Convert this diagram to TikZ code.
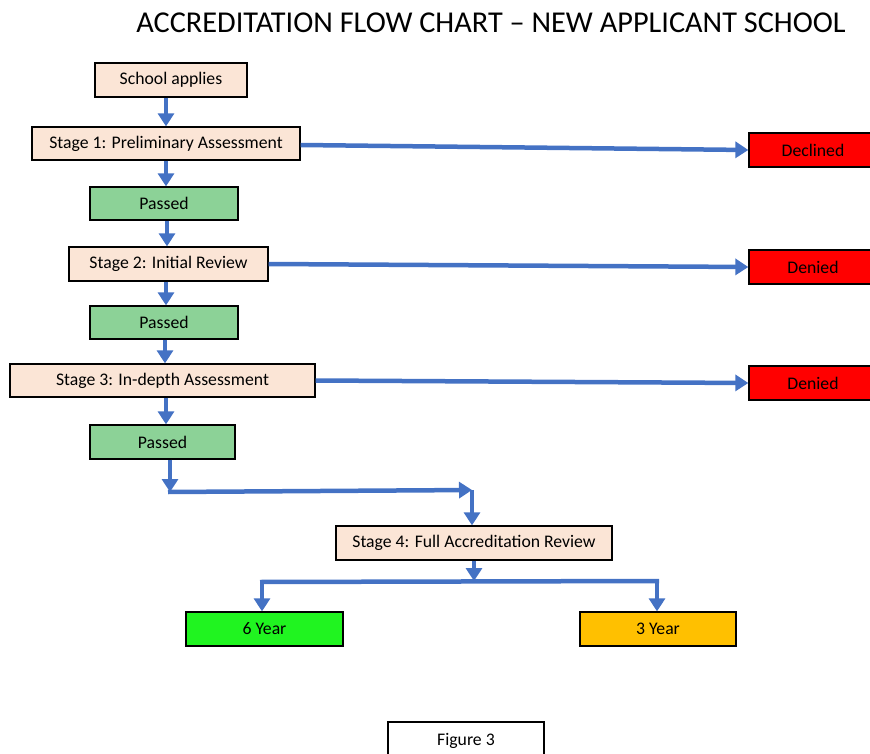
\documentclass[tikz,border=0pt]{standalone}
\usepackage{fontspec}
\setmainfont{Carlito}
\usetikzlibrary{arrows.meta}
\definecolor{peach}{HTML}{FBE5D6}
\definecolor{passgreen}{HTML}{8CD297}
\definecolor{flowblue}{HTML}{4472C4}
\definecolor{sixgreen}{HTML}{20F420}
\definecolor{threeyellow}{HTML}{FFC000}
\tikzset{
  box/.style={draw=black, line width=1.3pt, rectangle, inner sep=0pt, font=\fontsize{17.7}{20}\selectfont},
  flow/.style={draw=flowblue, line width=4.5pt, -{Triangle[length=13pt,width=16pt]}},
  flowline/.style={draw=flowblue, line width=4.5pt},
}
\begin{document}
\begin{tikzpicture}[x=1pt,y=-1pt]
\useasboundingbox (0,0) rectangle (870,754);
\node[font=\fontsize{30.3}{34}\selectfont] (title) at (491,23) {ACCREDITATION FLOW CHART – NEW APPLICANT SCHOOL};
\node[box, fill=peach, minimum width=152, minimum height=34] (apply) at (171,80) {School applies};
\node[box, fill=peach, minimum width=268, minimum height=33] (s1) at (166,143.5) {Stage 1: Preliminary Assessment};
\node[box, fill=passgreen, minimum width=148, minimum height=33] (p1) at (164,203.5) {Passed};
\node[box, fill=peach, minimum width=199, minimum height=34] (s2) at (168.5,264) {Stage 2: Initial Review};
\node[box, fill=passgreen, minimum width=148, minimum height=33] (p2) at (164,322.5) {Passed};
\node[box, fill=peach, minimum width=305, minimum height=33] (s3) at (162.5,380.5) {Stage 3: In-depth Assessment};
\node[box, fill=passgreen, minimum width=145, minimum height=34] (p3) at (162.5,442) {Passed};
\node[box, fill=peach, minimum width=276, minimum height=34] (s4) at (474,543) {Stage 4: Full Accreditation Review};
\node[box, fill=sixgreen, minimum width=157, minimum height=34] (six) at (264.5,629) {6 Year};
\node[box, fill=threeyellow, minimum width=156, minimum height=34] (three) at (658,629) {3 Year};
\node[box, fill=red, minimum width=128, minimum height=34] (dec) at (813,150) {Declined};
\node[box, fill=red, minimum width=128, minimum height=34] (den1) at (813,267) {Denied};
\node[box, fill=red, minimum width=128, minimum height=34] (den2) at (813,383) {Denied};
\node[box, fill=white, minimum width=156, minimum height=38] (fig) at (466,741) {Figure 3};
% connectors
\draw[flow] (apply.south -| 166,0) -- (s1.north -| 166,0);
\draw[flow] (s1.south -| 166,0) -- (p1.north -| 166,0);
\draw[flow] (p1.south -| 167,0) -- (s2.north -| 167,0);
\draw[flow] (s2.south -| 166,0) -- (p2.north -| 166,0);
\draw[flow] (p2.south -| 165,0) -- (s3.north -| 165,0);
\draw[flow] (s3.south -| 166,0) -- (p3.north -| 166,0);
\draw[flow] (s1.east |- 0,145) -- (dec.west);
\draw[flow] (s2.east) -- (den1.west);
\draw[flow] (s3.east) -- (den2.west);
\coordinate (c1) at (170,492);
\coordinate (c2) at (472,490);
\coordinate (c3) at (474,581);
\coordinate (c4) at (262,582);
\coordinate (c5) at (657,581);
\draw[flow] (p3.south -| c1) -- (c1);
\draw[flow] ([xshift=-2pt]c1) -- (c2);
\draw[flow] (c2) -- (s4.north -| c2);
\draw[flow] (s4.south) -- (c3);
\draw[flowline] ([xshift=-2pt]c4) -- ([xshift=2pt]c5);
\draw[flow] ([yshift=-2pt]c4) -- (six.north -| c4);
\draw[flow] ([yshift=-2pt]c5) -- (three.north -| c5);
\end{tikzpicture}
\end{document}
